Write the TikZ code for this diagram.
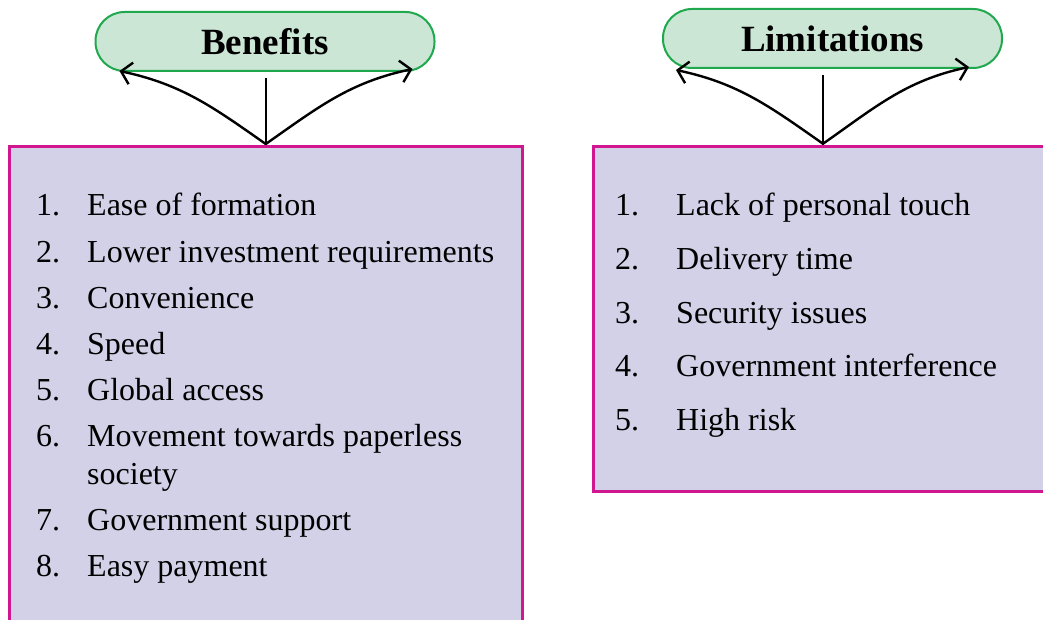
\documentclass[tikz,border=0pt]{standalone}
\usepackage{fontspec}
\setmainfont{Liberation Serif}
\usetikzlibrary{arrows.meta}
\definecolor{pillfill}{HTML}{CBE6D4}
\definecolor{pillline}{HTML}{1FA84E}
\definecolor{boxfill}{HTML}{D3D1E8}
\definecolor{boxline}{HTML}{D0178F}
\tikzset{
  pill/.style={draw=pillline, fill=pillfill, line width=2pt, rounded corners=29pt,
    minimum width=339pt, minimum height=59pt, inner sep=0pt,
    font=\fontsize{37}{40}\selectfont\bfseries},
  listbox/.style={draw=boxline, fill=boxfill, line width=3pt, inner sep=0pt},
  item/.style={anchor=base west, inner sep=0pt,
    font=\fontsize{32}{38}\selectfont},
  link/.style={line width=2.4pt, -{Straight Barb[length=10pt,width=22pt,line width=2.4pt]}}
}
\begin{document}
\begin{tikzpicture}[x=1pt,y=-1pt]
\useasboundingbox (0,0) rectangle (1043,620);
\clip (0,0) rectangle (1043,620);
\node[pill] (ben) at (265,41.5) {\raisebox{-1pt}{Benefits}};
\node[pill] (lim) at (832.5,38.5) {\raisebox{-1pt}{Limitations}};
\node[listbox, minimum width=512.5pt, minimum height=498.5pt] (benbox) at (265.75,395.75) {};
\node[listbox, minimum width=460pt, minimum height=345pt] (limbox) at (823,318.75) {};
% benefits list
\foreach \n/\t/\y in {1/Ease of formation/216, 2/Lower investment requirements/262,
  3/Convenience/308, 4/Speed/354, 5/Global access/400,
  6/{\vtop{\hbox{Movement towards paperless}\hbox{society}}}/446,
  7/Government support/530, 8/Easy payment/576}
  {\node[item] (bn\n) at (36,\y) {\n.};
   \node[item] (bt\n) at (87,\y) {\t};}
% limitations list
\foreach \n/\t/\y in {1/Lack of personal touch/216, 2/Delivery time/269.5,
  3/Security issues/323, 4/Government interference/376.5, 5/High risk/430}
  {\node[item] (ln\n) at (615,\y) {\n.};
   \node[item] (lt\n) at (676,\y) {\t};}
% connectors
\draw[line width=2.4pt] (benbox.north) -- ([yshift=-6pt]benbox.north |- ben.south);
\draw[link] ([yshift=1pt]benbox.north) to[out=145,in=-12] ([xshift=25pt,yshift=1pt]ben.south west);
\draw[link] ([yshift=1pt]benbox.north) to[out=35,in=192] ([xshift=-23pt,yshift=3pt]ben.south east);
\draw[line width=2.4pt] (limbox.north) -- ([yshift=-6pt]limbox.north |- lim.south);
\draw[link] ([yshift=1pt]limbox.north) to[out=145,in=-12] ([xshift=14pt,yshift=-1pt]lim.south west);
\draw[link] ([yshift=1pt]limbox.north) to[out=35,in=192] ([xshift=-34pt,yshift=2pt]lim.south east);
\end{tikzpicture}
\end{document}
